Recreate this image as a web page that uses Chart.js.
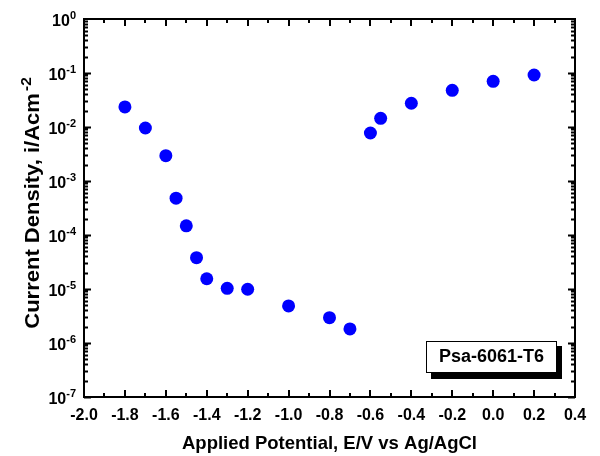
<!DOCTYPE html>
<html><head><meta charset="utf-8">
<script src="https://cdn.jsdelivr.net/npm/chart.js@4"></script>
<style>html,body{margin:0;padding:0;background:#fff}#wrap{width:600px;height:456px}</style>
</head><body><div id="wrap"><canvas id="c" width="600" height="456"></canvas></div>
<script>
const potential = [-1.8,-1.7,-1.6,-1.55,-1.5,-1.45,-1.4,-1.3,-1.2,-1.0,-0.8,-0.7,-0.6,-0.55,-0.4,-0.2,0.0,0.2];
const currentDensity = [0.0235,0.00958,0.00294,4.8e-4,1.48e-4,3.8e-5,1.55e-5,1.03e-5,9.9e-6,4.85e-6,2.95e-6,1.82e-6,7.74e-3,0.0145,0.0275,0.0478,0.0702,0.0918];
const xTickLabels = ['-2.0','-1.8','-1.6','-1.4','-1.2','-1.0','-0.8','-0.6','-0.4','-0.2','0.0','0.2','0.4'];
const yTickExponents = [-7,-6,-5,-4,-3,-2,-1,0];
const xTitle = 'Applied Potential, E/V vs Ag/AgCl';
const yTitle = 'Current Density, i/Acm';
const yTitleSup = '-2';
const legendText = 'Psa-6061-T6';
const FONT = '"Liberation Sans", Arial, Helvetica, sans-serif';

const framePlugin = {
  id: 'frame',
  afterDraw(chart) {
    const ctx = chart.ctx, a = chart.chartArea;
    const xs = chart.scales.x, ys = chart.scales.y;
    ctx.save();
    ctx.strokeStyle = '#000'; ctx.fillStyle = '#000';
    // ticks (inward)
    ctx.lineWidth = 2;
    ctx.beginPath();
    const nx = Math.round((xs.max - xs.min) / 0.1);
    for (let i = 0; i <= nx; i++) {
      const v = xs.min + i * 0.1;
      const px = Math.round(xs.getPixelForValue(v));
      const len = (i % 2 === 0) ? 7 : 4;
      ctx.moveTo(px, a.bottom); ctx.lineTo(px, a.bottom - len);
      ctx.moveTo(px, a.top); ctx.lineTo(px, a.top + len);
    }
    for (let k = 0; k < yTickExponents.length - 1; k++) {
      const e = yTickExponents[k];
      for (let m = 1; m <= 9; m++) {
        const py = Math.round(ys.getPixelForValue(m * Math.pow(10, e))) + 0.5;
        const len = (m === 1) ? 7 : 4;
        ctx.moveTo(a.left, py); ctx.lineTo(a.left + len, py);
        ctx.moveTo(a.right, py); ctx.lineTo(a.right - len, py);
      }
    }
    ctx.stroke();
    // frame
    ctx.lineWidth = 2;
    ctx.strokeRect(a.left, a.top, a.right - a.left, a.bottom - a.top);
    // x tick labels
    ctx.font = 'bold 16px ' + FONT;
    ctx.textAlign = 'center'; ctx.textBaseline = 'alphabetic';
    xTickLabels.forEach(t => {
      const px = xs.getPixelForValue(parseFloat(t));
      ctx.fillText(t, px, a.bottom + 22.5);
    });
    // y tick labels 10^n
    yTickExponents.forEach(e => {
      const py = ys.getPixelForValue(Math.pow(10, e));
      const sup = String(e);
      ctx.textAlign = 'right';
      ctx.font = 'bold 11px ' + FONT;
      const w = ctx.measureText(sup).width;
      ctx.fillText(sup, a.left - 8, py);
      ctx.font = 'bold 16px ' + FONT;
      ctx.fillText('10', a.left - 8 - w, py + 7);
    });
    // x title
    ctx.font = 'bold 18.5px ' + FONT;
    ctx.textAlign = 'center';
    ctx.fillText(xTitle, (a.left + a.right) / 2, 449);
    // y title
    ctx.save();
    ctx.translate(38.5, 203);
    ctx.rotate(-Math.PI / 2);
    ctx.scale(1.1, 1);
    ctx.font = 'bold 20px ' + FONT;
    const wm = ctx.measureText(yTitle).width;
    ctx.font = 'bold 14px ' + FONT;
    const ws = ctx.measureText(yTitleSup).width;
    const total = wm + 2 + ws;
    ctx.textAlign = 'left';
    ctx.font = 'bold 20px ' + FONT;
    ctx.fillText(yTitle, -total / 2, 0);
    ctx.font = 'bold 14px ' + FONT;
    ctx.fillText(yTitleSup, -total / 2 + wm + 2, -8);
    ctx.restore();
    // legend box with shadow
    const bx = a.right - 149, by = a.bottom - 56, bw = 130, bh = 31;
    ctx.fillStyle = '#000';
    ctx.fillRect(bx + 5, by + 5, bw + 1, bh + 2);
    ctx.fillStyle = '#fff';
    ctx.fillRect(bx, by, bw, bh);
    ctx.lineWidth = 1;
    ctx.strokeStyle = '#000';
    ctx.strokeRect(bx + 0.5, by + 0.5, bw, bh);
    ctx.fillStyle = '#000';
    ctx.font = 'bold 18px ' + FONT;
    ctx.textAlign = 'center'; ctx.textBaseline = 'middle';
    ctx.fillText(legendText, bx + bw / 2 + 0.5, by + bh / 2 + 1);
    ctx.restore();
  }
};

new Chart(document.getElementById('c'), {
  type: 'scatter',
  data: {
    datasets: [{
      data: potential.map((x, i) => ({ x: x, y: currentDensity[i] })),
      backgroundColor: '#0000ff',
      borderWidth: 0,
      pointRadius: 6.5,
      pointHoverRadius: 6.5
    }]
  },
  options: {
    responsive: false,
    devicePixelRatio: 1,
    animation: false,
    layout: { padding: { top: 19, right: 25, left: 0, bottom: 0 } },
    plugins: { legend: { display: false }, tooltip: { enabled: false } },
    scales: {
      x: {
        type: 'linear', min: -2.0, max: 0.4,
        grid: { display: false }, border: { display: false },
        ticks: { display: false },
        afterFit(s) { s.height = 59; }
      },
      y: {
        type: 'logarithmic', min: 1e-7, max: 1,
        grid: { display: false }, border: { display: false },
        ticks: { display: false },
        afterFit(s) { s.width = 84; }
      }
    }
  },
  plugins: [framePlugin]
});
</script>
</body></html>
